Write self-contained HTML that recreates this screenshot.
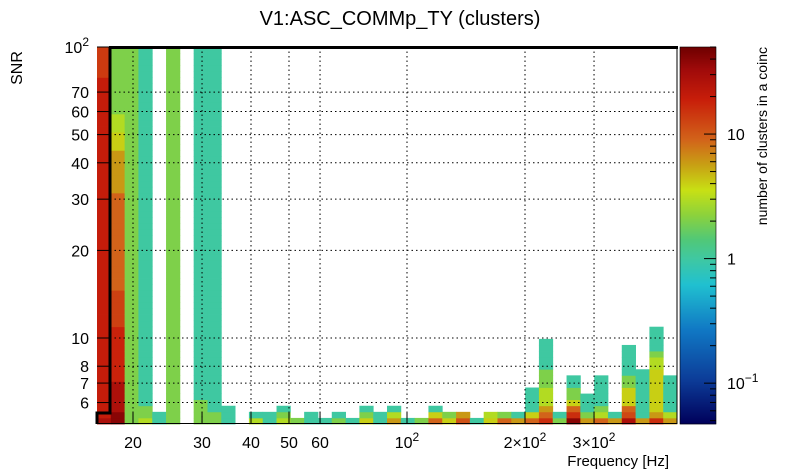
<!DOCTYPE html>
<html><head><meta charset="utf-8"><style>
body{margin:0;background:#fff;}
svg{display:block;font-family:"Liberation Sans",Arial,sans-serif;}
</style></head><body>
<svg id="chart" width="805" height="472" xmlns="http://www.w3.org/2000/svg">
<rect width="805" height="472" fill="#fff"/>
<text x="400" y="25" text-anchor="middle" font-size="20">V1:ASC_COMMp_TY (clusters)</text>
<text transform="translate(22,68) rotate(-90)" text-anchor="middle" font-size="16">SNR</text>
<text x="669" y="466" text-anchor="end" font-size="15">Frequency [Hz]</text>
<text transform="translate(767,47) rotate(-90)" text-anchor="end" font-size="14">number of clusters in a coinc</text>
<g id="cells"></g><g id="grid"></g><g id="axes"></g><g id="cbar"></g>
</svg>
<script>
// Frequency tick values / labels (base text + optional superscript)
const xTickVals = [20,30,40,50,60,100,200,300];
const xTickLabels = [["20",""],["30",""],["40",""],["50",""],["60",""],["10","2"],["2×10","2"],["3×10","2"]];
const yTickVals = [6,7,8,10,20,30,40,50,60,70,100];
const yTickLabels = [["6",""],["7",""],["8",""],["10",""],["20",""],["30",""],["40",""],["50",""],["60",""],["70",""],["10","2"]];
const zTickVals = [0.1,1,10];
const zTickLabels = [["10","−1"],["1",""],["10",""]];
// Heatmap: 42 frequency columns, each a run-length list of [count, rows] from the lowest SNR row upward
const columnRuns = [
 [[28,1],[20,56],[14,5]],
 [[40,2],[28,5],[18,9],[13,6],[9,16],[6,7],[4,3],[3,3],[2,11]],
 [[2,62]],
 [[3,1],[2,2],[1,59]],
 [[1,2]],
 [[2,62]],
 [],
 [[2,4],[1,58]],
 [[2,2],[1,60]],
 [[1,3]],
 [],
 [[3,1],[1,1]],
 [[1,2]],
 [[3,1],[2,1],[1,1]],
 [[2,1]],
 [[1,2]],
 [[1,1]],
 [[2,1],[1,1]],
 [[1,1]],
 [[4,1],[2,1],[1,1]],
 [[1,2]],
 [[6,1],[3,1],[1,1]],
 [[1,1]],
 [[2,1]],
 [[9,1],[4,1],[1,1]],
 [[4,1],[2,1]],
 [[11,1],[6,1]],
 [[1,1]],
 [[4,1],[3,1]],
 [[9,1],[2,1]],
 [[6,1],[1,1]],
 [[9,1],[4,1],[1,4]],
 [[16,1],[9,1],[6,1],[3,3],[2,3],[1,5]],
 [[2,1],[1,1]],
 [[40,1],[16,1],[9,1],[4,1],[2,2],[1,2]],
 [[6,1],[2,1],[1,3]],
 [[9,1],[3,1],[2,1],[1,5]],
 [[6,1],[1,1]],
 [[28,1],[12,1],[9,1],[4,3],[2,2],[1,5]],
 [[6,1],[1,8]],
 [[16,1],[6,1],[4,7],[3,2],[2,1],[1,4]],
 [[6,1],[3,1],[1,6]]
];
const NS="http://www.w3.org/2000/svg";
const xScale = f => 407 + 392*Math.log10(f/100);
const xInv = px => 100*Math.pow(10,(px-407)/392);
const yScale = v => 338 - 291*Math.log10(v/10);
const yInv = py => 10*Math.pow(10,(338-py)/291);
const zMin=0.047, zMax=50;
const zScale = c => 424 - 377*(Math.log10(c/zMin))/Math.log10(zMax/zMin);
const stops=[[0,[0,0,90]],[0.117,[12,60,152]],[0.25,[16,120,196]],[0.369,[32,192,208]],[0.44,[64,200,160]],[0.488,[80,200,120]],[0.554,[140,210,60]],[0.62,[200,224,20]],[0.687,[200,160,20]],[0.753,[210,100,26]],[0.86,[200,30,10]],[0.94,[160,10,10]],[1,[110,0,0]]];
function colorAt(f){f=Math.max(0,Math.min(1,f));for(let i=1;i<stops.length;i++){if(f<=stops[i][0]){const a=stops[i-1],b=stops[i];const t=(f-a[0])/(b[0]-a[0]);const c=a[1].map((v,j)=>Math.round(v+(b[1][j]-v)*t));return `rgb(${c.join(',')})`;}}return 'rgb(110,0,0)';}
const countColor = c => colorAt((424-zScale(c))/377);
function mk(tag,attrs,parent){const e=document.createElementNS(NS,tag);for(const k in attrs)e.setAttribute(k,attrs[k]);parent.appendChild(e);return e;}
function label(parent,x,y,anchor,lab){
  const t=mk('text',{x:x,y:y,'text-anchor':anchor,'font-size':16},parent);
  t.appendChild(document.createTextNode(lab[0]));
  if(lab[1]){const s=mk('tspan',{dy:-7,'font-size':12},t);s.textContent=lab[1];}
  return t;
}
const fMin=xInv(97), fRatio=Math.pow(10,13.81/392);
const sMin=yInv(424), sRatio=Math.pow(10,377/291/62);
const cells=document.getElementById('cells');
columnRuns.forEach((runs,ci)=>{
  const f0=fMin*Math.pow(fRatio,ci), f1=f0*fRatio;
  let row=0;
  runs.forEach(([cnt,n])=>{
    for(let k=0;k<n;k++){
      const s0=sMin*Math.pow(sRatio,row), s1=s0*sRatio;
      const y0=yScale(s1), y1=yScale(s0);
      const r=mk('rect',{x:xScale(f0).toFixed(2),y:y0.toFixed(2),width:(xScale(f1)-xScale(f0)+0.4).toFixed(2),height:(y1-y0+0.4).toFixed(2),fill:countColor(cnt)},cells);
      
      
      row++;
    }
  });
});
const grid=document.getElementById('grid');
xTickVals.forEach(v=>{const l=mk('line',{x1:xScale(v),x2:xScale(v),y1:47,y2:423,stroke:'#000','stroke-width':1,'stroke-dasharray':'1.5,3'},grid);

});
yTickVals.forEach(v=>{const l=mk('line',{x1:110,x2:677,y1:yScale(v),y2:yScale(v),stroke:'#000','stroke-width':1,'stroke-dasharray':'1.5,3'},grid);

});
const axes=document.getElementById('axes');
mk('line',{x1:96,x2:677,y1:423.5,y2:423.5,stroke:'#000','stroke-width':1},axes);
mk('line',{x1:677,x2:677,y1:47,y2:424,stroke:'#000','stroke-width':1},axes);
mk('polyline',{points:'110,47 110,413 97,413 97,424',fill:'none',stroke:'#000','stroke-width':3},axes);
mk('line',{x1:109,x2:678,y1:47.5,y2:47.5,stroke:'#000','stroke-width':3},axes);
xTickVals.forEach((v,i)=>{mk('line',{x1:xScale(v),x2:xScale(v),y1:423,y2:412,stroke:'#000'},axes);
const t=label(axes,xScale(v),448,'middle',xTickLabels[i]);

});
yTickVals.forEach((v,i)=>{mk('line',{x1:97,x2:110,y1:yScale(v),y2:yScale(v),stroke:'#000'},axes);
const t=label(axes,89,yScale(v)+6,'end',yTickLabels[i]);

});
const cb=document.getElementById('cbar');
for(let y=47;y<424;y++){mk('rect',{x:680,y:y,width:36,height:1.2,fill:colorAt((424-y-0.5)/377)},cb);}
const cbb=mk('rect',{x:680,y:47,width:36,height:377,fill:'none',stroke:'#000','stroke-width':0.6},cb);


for(let d=-2;d<=1;d++){for(let m=1;m<10;m++){const v=m*Math.pow(10,d);if(v<zMin||v>zMax)continue;const y=zScale(v);mk('line',{x1:716,x2:m===1?704:710,y1:y,y2:y,stroke:'#000'},cb);}}
zTickVals.forEach((v,i)=>{const t=label(cb,727,zScale(v)+6,'start',zTickLabels[i]);

});
</script>
</body></html>
